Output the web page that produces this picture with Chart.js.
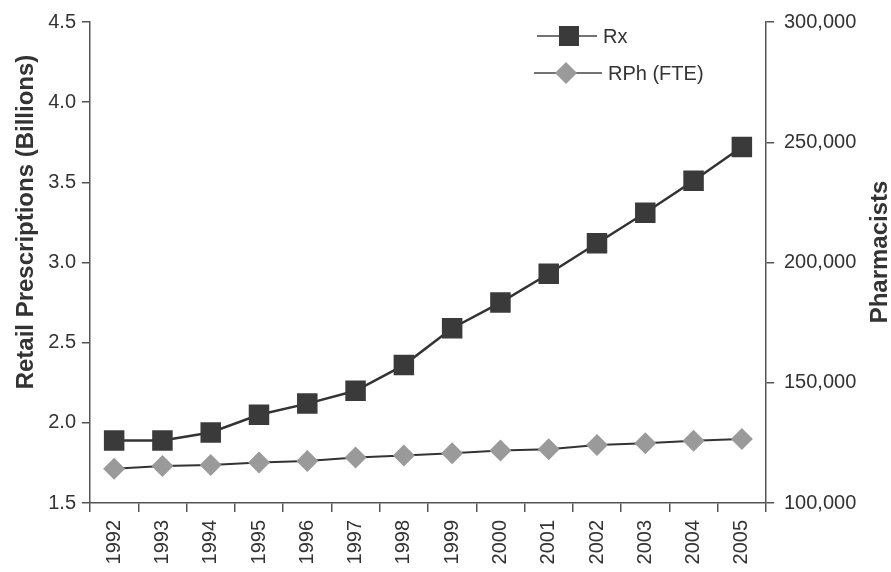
<!DOCTYPE html>
<html>
<head>
<meta charset="utf-8">
<script src="https://cdn.jsdelivr.net/npm/chart.js@4/dist/chart.umd.min.js"></script>
<style>
  html, body { margin: 0; padding: 0; background: #fff; }
  canvas { display: block; }
</style>
</head>
<body>
<canvas id="chart" width="891" height="572"></canvas>
<script>
const years = ['1992', '1993', '1994', '1995', '1996', '1997', '1998',
  '1999', '2000', '2001', '2002', '2003', '2004', '2005'];
// retail prescriptions, billions (left axis)
const rxBillions = [1.89, 1.89, 1.94, 2.05, 2.12, 2.20, 2.36,
  2.59, 2.75, 2.93, 3.12, 3.31, 3.51, 3.72];
// pharmacists, full-time equivalent (right axis)
const rphFte = [114200, 115400, 115800, 116800, 117500, 118900, 119700,
  120700, 121800, 122400, 124100, 124800, 125900, 126600];

const leftTitle = 'Retail Prescriptions (Billions)';
const rightTitle = 'Pharmacists';
const legendItems = [
  { label: 'Rx', style: 'rect' },
  { label: 'RPh (FTE)', style: 'rectRot' },
];

const FONT = "'Liberation Sans', Arial, Helvetica, sans-serif";
const TEXT = '#333';
const AXIS = '#555';

// draws the axis titles (both read bottom-to-top) and the little legend
const decorations = {
  id: 'decorations',
  afterDraw(chart) {
    const ctx = chart.ctx;
    ctx.save();
    ctx.fillStyle = TEXT;
    ctx.font = 'bold 24px ' + FONT;
    ctx.textAlign = 'center';
    ctx.textBaseline = 'middle';

    ctx.save();
    ctx.translate(26, 222);
    ctx.rotate(-Math.PI / 2);
    ctx.fillText(leftTitle, 0, 0);
    ctx.restore();

    ctx.save();
    ctx.translate(880, 252);
    ctx.rotate(-Math.PI / 2);
    ctx.fillText(rightTitle, 0, 0);
    ctx.restore();

    // legend
    const rows = [
      { x0: 537, x1: 597, mx: 569, y: 36, tx: 603 },
      { x0: 534, x1: 602, mx: 566, y: 73, tx: 608 },
    ];
    legendItems.forEach((item, i) => {
      const r = rows[i];
      const ds = chart.data.datasets[i];
      ctx.strokeStyle = '#444';
      ctx.lineWidth = 1.3;
      ctx.beginPath();
      ctx.moveTo(r.x0, r.y);
      ctx.lineTo(r.x1, r.y);
      ctx.stroke();
      ctx.fillStyle = ds.pointBackgroundColor;
      ctx.beginPath();
      if (item.style === 'rect') {
        ctx.rect(r.mx - 10, r.y - 10, 20, 20);
      } else {
        ctx.moveTo(r.mx, r.y - 11);
        ctx.lineTo(r.mx + 11, r.y);
        ctx.lineTo(r.mx, r.y + 11);
        ctx.lineTo(r.mx - 11, r.y);
        ctx.closePath();
      }
      ctx.fill();
      ctx.fillStyle = TEXT;
      ctx.font = '20px ' + FONT;
      ctx.textAlign = 'left';
      ctx.textBaseline = 'middle';
      ctx.fillText(item.label, r.tx, r.y + 1);
    });
    ctx.restore();
  },
};

const ctx = document.getElementById('chart').getContext('2d');
new Chart(ctx, {
  type: 'line',
  data: {
    labels: years,
    datasets: [
      {
        label: 'Rx',
        data: rxBillions,
        yAxisID: 'y',
        borderColor: '#333',
        borderWidth: 2.5,
        pointStyle: 'rect',
        pointRadius: 14.5,
        pointBackgroundColor: '#3a3a3a',
        pointBorderWidth: 0,
        tension: 0,
      },
      {
        label: 'RPh (FTE)',
        data: rphFte,
        yAxisID: 'y1',
        borderColor: '#333',
        borderWidth: 2,
        pointStyle: 'rectRot',
        pointRadius: 11,
        pointBackgroundColor: '#9a9a9a',
        pointBorderWidth: 0,
        tension: 0,
      },
    ],
  },
  options: {
    responsive: false,
    animation: false,
    devicePixelRatio: 1,
    layout: { padding: { top: 19, left: 0, right: 0, bottom: 0 } },
    plugins: {
      legend: { display: false },
      tooltip: { enabled: false },
    },
    scales: {
      x: {
        type: 'category',
        offset: true,
        grid: { drawOnChartArea: false, tickLength: 9, color: AXIS, offset: true, lineWidth: 1.5 },
        border: { display: true, color: AXIS, width: 1.5 },
        ticks: {
          autoSkip: false,
          minRotation: 90,
          maxRotation: 90,
          padding: 8,
          color: TEXT,
          font: { family: FONT, size: 20 },
        },
        afterFit(scale) { scale.height = 69; },
      },
      y: {
        position: 'left',
        min: 1.5,
        max: 4.5,
        grid: { drawOnChartArea: false, tickLength: 8, color: AXIS, lineWidth: 1.5 },
        border: { display: true, color: AXIS, width: 1.5 },
        ticks: {
          stepSize: 0.5,
          padding: 6,
          color: TEXT,
          font: { family: FONT, size: 20 },
          callback: v => v.toFixed(1),
        },
        afterFit(scale) { scale.width = 90; },
      },
      y1: {
        position: 'right',
        min: 100000,
        max: 300000,
        grid: { drawOnChartArea: false, tickLength: 8, color: AXIS, lineWidth: 1.5 },
        border: { display: true, color: AXIS, width: 1.5 },
        ticks: {
          stepSize: 50000,
          padding: 10,
          color: TEXT,
          font: { family: FONT, size: 20 },
          callback: v => v.toLocaleString('en-US'),
        },
        afterFit(scale) { scale.width = 125; },
      },
    },
  },
  plugins: [decorations],
});
</script>
</body>
</html>
